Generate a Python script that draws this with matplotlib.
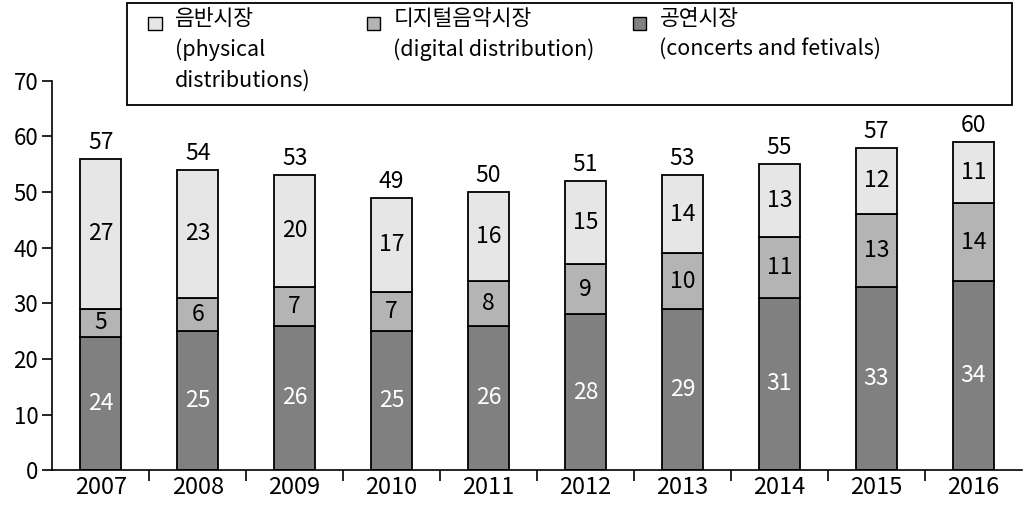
import matplotlib.pyplot as plt
from matplotlib.patches import Rectangle
import numpy as np

plt.rcParams['font.family'] = ['Noto Sans CJK KR', 'DejaVu Sans']

years = ['2007', '2008', '2009', '2010', '2011', '2012', '2013', '2014', '2015', '2016']
concerts = [24, 25, 26, 25, 26, 28, 29, 31, 33, 34]
digital = [5, 6, 7, 7, 8, 9, 10, 11, 13, 14]
physical = [27, 23, 20, 17, 16, 15, 14, 13, 12, 11]
totals = [57, 54, 53, 49, 50, 51, 53, 55, 57, 60]

labels = ['음반시장\n(physical\ndistributions)',
          '디지털음악시장\n(digital distribution)',
          '공연시장\n(concerts and fetivals)']
colors = ['#e6e6e6', '#b4b4b4', '#808080']

fig = plt.figure(figsize=(10.24, 5.05), dpi=100)
ax = fig.add_axes([0.051, 0.069, 0.947, 0.771])

x = np.arange(len(years))
w = 0.42
conc = np.array(concerts)
dig = np.array(digital)
phys = np.array(physical)

ax.bar(x, conc, w, color=colors[2], edgecolor='black', linewidth=1.3)
ax.bar(x, dig, w, bottom=conc, color=colors[1], edgecolor='black', linewidth=1.3)
ax.bar(x, phys, w, bottom=conc + dig, color=colors[0], edgecolor='black', linewidth=1.3)

# value labels
fs = 16.5
for i in range(len(years)):
    ax.text(x[i], conc[i] / 2, str(concerts[i]), ha='center', va='center', color='white', fontsize=fs)
    ax.text(x[i], conc[i] + dig[i] / 2, str(digital[i]), ha='center', va='center', color='black', fontsize=fs)
    ax.text(x[i], conc[i] + dig[i] + phys[i] / 2, str(physical[i]), ha='center', va='center', color='black', fontsize=fs)
    ax.text(x[i], conc[i] + dig[i] + phys[i] + 0.9, str(totals[i]), ha='center', va='bottom', color='black', fontsize=fs)

ax.set_xlim(-0.5, len(years) - 0.5)
ax.set_ylim(0, 70)
ax.set_yticks(range(0, 71, 10))
ax.tick_params(axis='y', labelsize=16, length=7, width=1.2, direction='out', pad=3)
ax.set_xticks(x)
ax.set_xticklabels(years)
ax.set_xticks(np.arange(0.5, len(years) - 0.5, 1), minor=True)
ax.tick_params(axis='x', which='major', length=0, labelsize=17, pad=4)
ax.tick_params(axis='x', which='minor', length=8, width=1.2, direction='out')
for s in ['top', 'right']:
    ax.spines[s].set_visible(False)
ax.spines['left'].set_linewidth(1.2)
ax.spines['bottom'].set_linewidth(1.2)

# legend box drawn by hand
fig.patches.append(Rectangle((0.124, 0.792), 0.864, 0.203, transform=fig.transFigure,
                             facecolor='white', edgecolor='black', linewidth=1.3, zorder=5))
leg_x = [0.145, 0.358, 0.618]
for lx, lab, c in zip(leg_x, labels, colors):
    fig.patches.append(Rectangle((lx, 0.94), 0.013, 0.026, transform=fig.transFigure,
                                 facecolor=c, edgecolor='black', linewidth=1, zorder=6))
    fig.text(lx + 0.026, 0.985, lab, ha='left', va='top', fontsize=15.5, linespacing=1.5, zorder=7)

fig.savefig('out.png', dpi=100)
